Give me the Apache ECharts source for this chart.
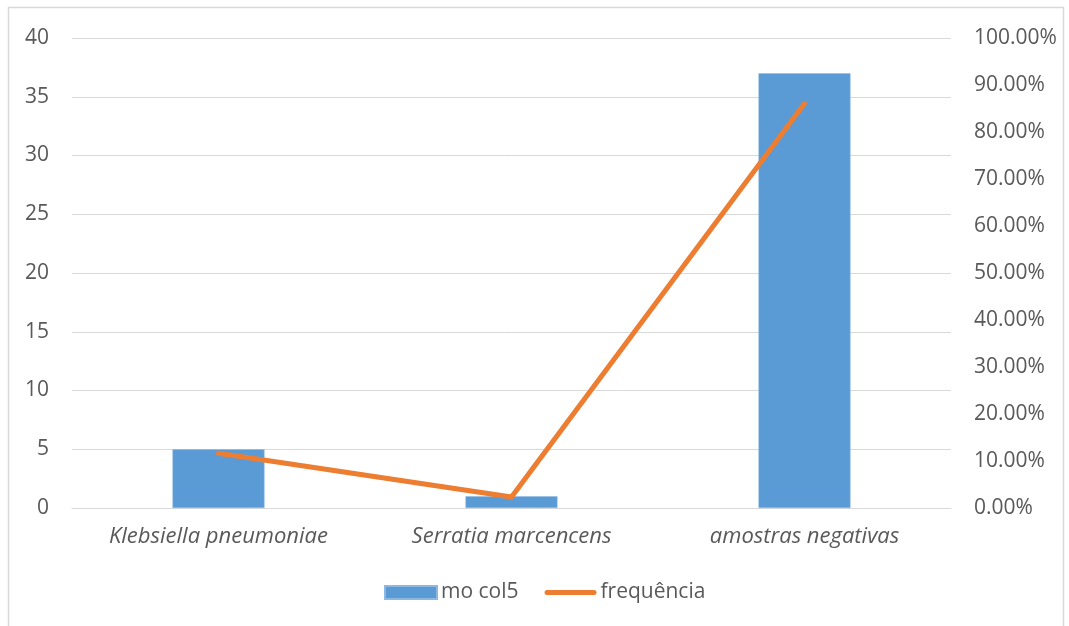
<!DOCTYPE html>
<html>
<head>
<meta charset="utf-8">
<script src="https://cdn.jsdelivr.net/npm/echarts@6/dist/echarts.min.js"></script>
<style>
  html, body { margin: 0; padding: 0; background: #fff; }
  #chart { width: 1069px; height: 626px; }
</style>
</head>
<body>
<div id="chart"></div>
<script>
// Organisms found in the samples, their counts and relative frequency
const categories = ['Klebsiella pneumoniae', 'Serratia marcencens', 'amostras negativas'];
const counts = [5, 1, 37];
const frequencies = [0.1163, 0.0233, 0.8605];
const seriesNames = ['mo col5', 'frequência'];

const FONT = '"Open Sans", Lato, sans-serif';
const TEXT = '#595959';

const chart = echarts.init(document.getElementById('chart'), null, { renderer: 'canvas' });

chart.setOption({
  animation: false,
  backgroundColor: '#ffffff',
  textStyle: { fontFamily: FONT },
  graphic: [{
    type: 'rect',
    shape: { x: 8.5, y: 7.5, width: 1055, height: 630 },
    style: { fill: 'none', stroke: '#D9D9D9', lineWidth: 1.5 },
    silent: true
  }],
  grid: { left: 72, right: 118, top: 38, bottom: 118, containLabel: false },
  legend: {
    bottom: 23,
    left: 384,
    padding: 0,
    itemWidth: 52,
    itemHeight: 13,
    itemGap: 26,
    textStyle: { fontFamily: FONT, fontSize: 21, color: TEXT, padding: [0, 0, 0, -1] },
    data: [
      { name: seriesNames[0], icon: 'rect' },
      {
        name: seriesNames[1],
        icon: 'path://M2.5,0 L49.5,0 A2.5,2.5 0 0 1 49.5,5 L2.5,5 A2.5,2.5 0 0 1 2.5,0 Z'
      }
    ]
  },
  xAxis: {
    type: 'category',
    data: categories,
    axisLine: { show: true, lineStyle: { color: '#D9D9D9', width: 1 } },
    axisTick: { show: false },
    axisLabel: {
      fontFamily: FONT, fontSize: 22, fontStyle: 'italic', color: TEXT, margin: 18
    }
  },
  yAxis: [
    {
      type: 'value',
      min: 0, max: 40, interval: 5,
      axisLine: { show: false },
      axisTick: { show: false },
      splitLine: { show: true, lineStyle: { color: '#D9D9D9', width: 1 } },
      axisLabel: { fontFamily: FONT, fontSize: 21, color: TEXT, margin: 23 }
    },
    {
      type: 'value',
      min: 0, max: 1, interval: 0.1,
      axisLine: { show: false },
      axisTick: { show: false },
      splitLine: { show: false },
      axisLabel: {
        fontFamily: FONT, fontSize: 21, color: TEXT, margin: 23,
        formatter: v => (v * 100).toFixed(2) + '%'
      }
    }
  ],
  series: [
    {
      name: seriesNames[0],
      type: 'bar',
      yAxisIndex: 0,
      data: counts,
      barWidth: '31.4%',
      itemStyle: { color: '#5B9BD5', borderColor: '#8DB8E2', borderWidth: 0.5 }
    },
    {
      name: seriesNames[1],
      type: 'line',
      yAxisIndex: 1,
      data: frequencies,
      symbol: 'none',
      lineStyle: { color: '#ED7D31', width: 5, cap: 'round', join: 'miter' },
      itemStyle: { color: '#ED7D31' },
      z: 3
    }
  ]
});
</script>
</body>
</html>
